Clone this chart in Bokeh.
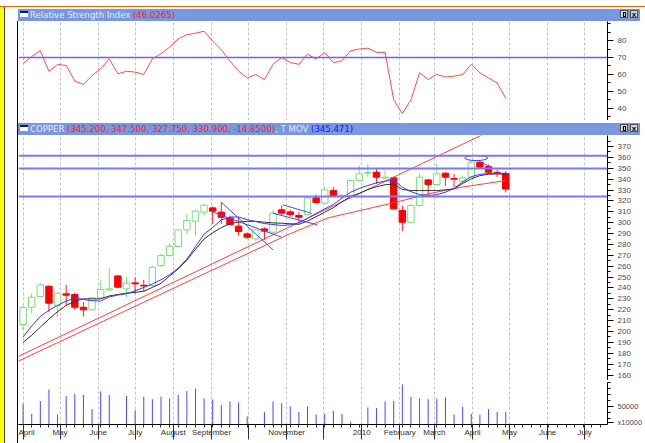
import numpy as np
import pandas as pd
from bokeh.plotting import figure
from bokeh.layouts import column, row
from bokeh.models import (Div, Range1d, FixedTicker, ColumnDataSource, Span)
from bokeh.embed import file_html
from bokeh.resources import INLINE

# ---------------- DATA ----------------
first_week = "2009-04-01"
opens = [206.4, 222.3, 232.1, 241.6, 223.8, 234.6, 234.0, 222.3, 219.9, 230.9,
         238.2, 251.1, 239.2, 244.7, 242.5, 242.2, 260.6, 269.8, 278.1, 293.4,
         301.4, 309.7, 313.6, 309.7, 304.4, 296.8, 289.7, 285.1, 294.3, 291.3,
         311.8, 309.9, 306.6, 307.5, 322.8, 317.9, 329.5, 324.0, 324.9, 338.7,
         345.5, 346.4, 340.9, 341.2, 311.2, 300.4, 315.8, 339.3, 335.1, 345.5,
         340.6, 338.1, 341.8, 355.6, 351.6, 346.2, 345.2]
highs = [223.8, 235.2, 244.4, 242.2, 235.8, 242.8, 235.8, 226.9, 231.5, 246.8,
         258.2, 251.7, 249.9, 249.9, 247.4, 260.6, 271.3, 281.1, 294.0, 308.1,
         311.8, 317.3, 314.9, 318.8, 306.6, 305.0, 291.2, 294.3, 295.8, 311.8,
         315.8, 311.8, 309.7, 323.4, 325.9, 333.2, 332.6, 326.5, 339.3, 352.5,
         354.1, 349.5, 348.0, 342.4, 315.8, 317.3, 344.9, 340.3, 354.1, 346.4,
         344.9, 343.3, 357.1, 357.1, 353.4, 348.5, 347.5]
lows = [201.5, 216.8, 231.5, 217.7, 213.7, 223.8, 219.9, 213.7, 219.2, 230.0,
        237.6, 240.1, 231.5, 234.6, 237.0, 240.7, 259.1, 268.9, 277.5, 289.7,
        288.2, 306.6, 298.9, 298.9, 297.4, 288.2, 285.1, 283.6, 284.2, 289.7,
        306.6, 305.7, 300.4, 306.6, 317.3, 317.3, 323.4, 322.8, 324.0, 338.1,
        342.4, 335.7, 339.3, 311.8, 292.2, 299.5, 314.8, 325.0, 334.1, 334.1,
        332.6, 336.3, 341.2, 350.4, 344.9, 341.8, 327.75]
closes = [222.3, 231.5, 242.8, 226.0, 235.2, 233.4, 222.3, 219.9, 230.9, 238.6,
          239.2, 240.7, 244.4, 243.8, 241.9, 259.1, 269.8, 278.4, 293.4, 302.0,
          310.6, 316.1, 310.6, 305.0, 298.3, 291.9, 286.7, 293.4, 292.2, 308.7,
          308.7, 307.5, 305.0, 322.8, 318.5, 330.2, 324.9, 324.9, 338.7, 344.9,
          346.1, 341.8, 341.8, 312.7, 300.4, 315.8, 341.8, 335.1, 344.9, 341.8,
          340.0, 341.2, 355.6, 351.0, 346.4, 345.75, 330.9]
volume = [58000, 30000, 66000, 98000, 28000, 80000, 86000, 83000, 43000, 93000,
          83000, 0, 80000, 40000, 78000, 71000, 78000, 73000, 83000, 94000,
          101000, 73000, 70000, 55000, 65000, 62000, 23000, 0, 35000, 65000,
          60000, 51000, 35000, 50000, 28000, 30000, 38000, 30000, 8000, 0,
          48000, 46000, 65000, 66000, 113000, 78000, 73000, 71000, 73000, 76000,
          28000, 50000, 30000, 28000, 43000, 35000, 35000]
rsi = [66.5, 70.6, 74.0, 61.9, 65.9, 65.3, 56.1, 54.1, 59.4, 63.3,
       69.2, 60.4, 61.9, 61.4, 60.0, 69.2, 72.2, 76.1, 81.0, 83.4,
       84.3, 85.5, 79.6, 74.5, 68.0, 62.0, 58.0, 60.0, 57.0, 66.0,
       70.0, 67.0, 66.0, 72.0, 69.0, 73.0, 67.0, 68.0, 74.0, 75.0,
       75.5, 73.0, 73.0, 45.0, 37.0, 45.0, 61.0, 57.0, 60.0, 58.5,
       59.0, 60.0, 66.0, 61.0, 58.0, 55.0, 46.0265]
tmov_blue = [195.0, 205.0, 214.0, 219.5, 224.0, 228.0, 230.8, 229.5, 228.3, 228.0,
             231.8, 233.5, 234.7, 237.5, 240.5, 243.7, 247.5, 252.2, 258.3, 266.5,
             278.0, 289.5, 295.6, 302.5, 305.2, 305.2, 302.8, 301.0, 299.2, 298.3,
             297.4, 298.0, 299.9, 304.0, 308.5, 312.6, 316.8, 322.5, 328.0, 331.5,
             334.2, 336.5, 338.2, 339.0, 332.5, 328.5, 325.8, 325.0, 325.8, 328.0,
             331.5, 337.5, 342.3, 344.4, 345.2, 345.4, 345.471]
ma_black = [190.0, 196.5, 204.0, 211.5, 218.3, 224.0, 227.8, 230.0, 230.0, 230.0,
            232.7, 234.0, 235.2, 236.0, 237.0, 240.5, 244.3, 251.0, 257.5, 265.5,
            275.5, 285.0, 290.8, 295.5, 299.0, 300.6, 301.2, 301.3, 300.4, 299.8,
            299.5, 299.0, 298.5, 301.5, 305.5, 309.6, 313.8, 319.2, 324.0, 327.0,
            330.5, 333.0, 334.8, 335.5, 330.5, 329.5, 329.5, 329.5, 329.5, 330.2,
            331.0, 336.0, 340.3, 343.2, 344.5, 344.8, 344.3]
curve_red_dates = ["2009-03-28", "2009-06-02", "2009-08-22", "2009-11-03", "2009-12-05",
                   "2010-01-01", "2010-01-29", "2010-02-24", "2010-03-23", "2010-04-28"]
curve_red_vals = [172.7, 207.8, 250.8, 289.4, 304.5, 311.5, 318.8, 326.5, 332.6, 338.7]
trend_red_dates = ["2009-03-28", "2010-04-15"]
trend_red_vals = [177.0, 384.0]
resistance = [361.5, 349.8, 324.0]
rsi_level = 70
wedge_d0 = ["2009-09-09", "2009-09-02", "2009-10-21", "2009-10-29", "2010-04-08"]
wedge_p0 = [318.8, 309.7, 308.7, 316.4, 355.6]
wedge_d1 = ["2009-10-21", "2009-10-28", "2009-11-26", "2009-11-21", "2010-04-16"]
wedge_p1 = [275.0, 286.7, 298.0, 308.7, 351.0]
ellipse_date = ["2010-04-04"]
ellipse_price = [359.4]
month_starts = pd.date_range("2009-04-01", "2010-07-01", freq="MS")
month_labels = ["April", "May", "June", "July", "August", "September", "", "November",
                "", "2010", "February", "March", "April", "May", "June", "July"]
price_ticks = list(range(160, 371, 10))
rsi_ticks = [40, 50, 60, 70, 80]
vol_ticks = [50000]
vol_unit_tick = 5000
vol_unit_label = "x10000"

# ---------------- HELPERS ----------------
DAY = 86400000.0
EPOCH = pd.Timestamp("1970-01-01")
def ms(t):
    return float((pd.Timestamp(t) - EPOCH) / pd.Timedelta(milliseconds=1))

weeks = pd.date_range(first_week, periods=len(closes), freq="7D")
month_ms = [ms(t) for t in month_starts]
x_range = Range1d(ms("2009-03-28 06:38"), ms("2009-03-28 06:38") + 478.35 * DAY)

FONT = "Liberation Sans"
LIGHT = "#e6ebfb"
RED = "#ff1b1b"
BLUE = "#1414ff"
BAR = "#7897de"

def style_yaxis(ax, ticks, minor):
    ax.ticker = FixedTicker(ticks=ticks, minor_ticks=minor)
    ax.axis_line_color = "black"
    ax.major_tick_line_color = "black"
    ax.minor_tick_line_color = "black"
    ax.major_tick_out = 6
    ax.major_tick_in = 0
    ax.minor_tick_out = 3
    ax.minor_tick_in = 0
    ax.major_label_text_font = FONT
    ax.major_label_text_font_size = "8px"
    ax.major_label_text_color = "#4a4a4a"
    ax.major_label_standoff = 4

def make_fig(h, y0, y1, with_xaxis=False, bottom=0):
    p = figure(width=627, height=h, x_range=x_range, y_range=Range1d(y0, y1),
               x_axis_type="datetime", x_axis_location="below" if with_xaxis else None,
               y_axis_location="right", toolbar_location=None, output_backend="svg",
               min_border_left=0, min_border_right=36, min_border_top=0,
               min_border_bottom=bottom)
    p.outline_line_color = None
    p.background_fill_color = "white"
    p.border_fill_color = "white"
    p.ygrid.visible = False
    p.xgrid.ticker = FixedTicker(ticks=month_ms)
    p.xgrid.grid_line_color = "#c4c4c4"
    p.xgrid.grid_line_dash = "3 2"
    return p

def title_html(parts):
    spans = "".join(f'<span style="color:{c}">{t}</span>' for t, c in parts)
    return (
        f'<div style="position:relative;width:622px;height:12px;background:{BAR};'
        'overflow:hidden;white-space:nowrap;'
        "font-family:'Liberation Sans Narrow','DejaVu Sans Condensed','Liberation Sans',sans-serif;"
        'font-size:9.5px;line-height:12px;">'
        '<span style="position:absolute;left:2px;top:2px;width:8px;height:6px;'
        'background:#fff;border-top:2px solid #1a1a50;"></span>'
        f'<span style="position:absolute;left:12px;top:0px;">{spans}</span>'
        '<span style="position:absolute;left:602px;top:1px;width:8px;height:8px;'
        'background:#d8d4cc;border:1px solid #505050;"><span style="position:absolute;'
        'left:2px;top:1px;width:3px;height:5px;border:1px solid #000;"></span></span>'
        '<span style="position:absolute;left:612px;top:1px;width:8px;height:8px;'
        'background:#d8d4cc;border:1px solid #505050;font:bold 8px sans-serif;'
        'line-height:8px;text-align:center;color:#000;">x</span>'
        '</div>')

def box_div(html, w, h):
    return Div(text=html, width=w, height=h, margin=(0, 0, 0, 0),
               styles={"overflow": "hidden"})

# ---------------- RSI PANEL ----------------
p_rsi = make_fig(99, 32.9, 91.2)
style_yaxis(p_rsi.yaxis[0], rsi_ticks, [35, 45, 55, 65, 75, 85, 90])
p_rsi.add_layout(Span(location=rsi_level, dimension="width", line_color="#6666ff",
                      line_width=1.5))
p_rsi.line(weeks, rsi, line_color="#ff4a4a", line_width=1)

# ---------------- PRICE PANEL ----------------
p_pr = make_fig(245, 155.0, 380.1)
style_yaxis(p_pr.yaxis[0], price_ticks, list(range(155, 380, 5)))
for lv in resistance:
    p_pr.add_layout(Span(location=lv, dimension="width", line_color="#7878ff",
                         line_width=2))

is_up = [c >= o for o, c in zip(opens, closes)]
def candle_src(mask):
    idx = [i for i, m in enumerate(mask) if m]
    return ColumnDataSource(dict(
        x=weeks[idx],
        top=[max(opens[i], closes[i]) for i in idx],
        bottom=[min(opens[i], closes[i]) for i in idx],
        high=[highs[i] for i in idx],
        low=[lows[i] for i in idx]))
up_src = candle_src(is_up)
dn_src = candle_src([not u for u in is_up])
GREEN = "#79dc79"
p_pr.segment("x", "high", "x", "low", source=up_src, line_color=GREEN, line_width=1)
p_pr.vbar("x", 5.2 * DAY, "top", "bottom", source=up_src, fill_color="white",
          line_color=GREEN, line_width=1)
p_pr.segment("x", "high", "x", "low", source=dn_src, line_color="#ff2020", line_width=1)
p_pr.vbar("x", 5.2 * DAY, "top", "bottom", source=dn_src, fill_color="#ff0000",
          line_color="#ff0000", line_width=1)

p_pr.line(pd.to_datetime(trend_red_dates), trend_red_vals, line_color="#ff4040", line_width=1)
p_pr.line(pd.to_datetime(curve_red_dates), curve_red_vals, line_color="#ff4040", line_width=1)
p_pr.line(weeks, ma_black, line_color="#303030", line_width=1)
p_pr.line(weeks, tmov_blue, line_color="#3a3aff", line_width=1)
p_pr.segment(pd.to_datetime(wedge_d0), wedge_p0, pd.to_datetime(wedge_d1), wedge_p1,
             line_color="#4a4aff", line_width=1)
p_pr.ellipse(pd.to_datetime(ellipse_date), ellipse_price, width=18.6 * DAY, height=4.6,
             fill_color=None, line_color="#3a3aff", line_width=1)

# ---------------- VOLUME PANEL ----------------
p_vol = make_fig(61, 0, 118000, with_xaxis=True, bottom=19)
style_yaxis(p_vol.yaxis[0], vol_ticks + [vol_unit_tick],
            [16667, 33333, 66667, 83333, 100000, 116667])
p_vol.yaxis[0].major_label_overrides = {vol_unit_tick: vol_unit_label}
p_vol.yaxis[0].major_label_text_font_size = "7.5px"
p_vol.segment(weeks, [0] * len(volume), weeks, volume, line_color="#4848ff", line_width=1)

xa = p_vol.xaxis[0]
xa.ticker = FixedTicker(ticks=month_ms, minor_ticks=[ms(t) for t in
                        pd.date_range("2009-04-01", "2010-07-19", freq="7D")])
xa.major_label_overrides = {m: lab for m, lab in zip(month_ms, month_labels)}
xa.axis_line_color = "black"
xa.major_tick_line_color = "#303030"
xa.minor_tick_line_color = "#303030"
xa.major_tick_out = 15
xa.major_tick_in = 0
xa.minor_tick_out = 3
xa.minor_tick_in = 0
xa.major_label_standoff = -12
xa.major_label_text_align = "left"
xa.major_label_text_font = FONT
xa.major_label_text_font_size = "8px"
xa.major_label_text_color = "#303030"

# ---------------- FRAME / TITLES ----------------
top_div = box_div('<div style="width:645px;height:6px;background:#e2680c;'
                  'border-bottom:1px solid #000"></div>', 645, 7)
left_div = box_div('<div style="position:relative;width:18px;height:436px;background:#fff">'
                   '<div style="position:absolute;left:0;top:0;width:4px;height:436px;'
                   'background:#ffff00"></div>'
                   '<div style="position:absolute;left:4px;top:0;width:1px;height:436px;'
                   'background:#404040"></div>'
                   '<div style="position:absolute;left:17px;top:14px;width:1px;height:422px;'
                   'background:#000"></div></div>', 18, 436)

rsi_title = box_div(title_html([("Relative Strength Index ", LIGHT),
                                (f"({rsi[-1]:.4f})", RED)]), 622, 12)
cu_vals = (f"({opens[-1]:.3f}, {highs[-1]:.3f}, {lows[-1]:.3f}, {closes[-1]:.3f}, "
           f"{closes[-1] - closes[-2]:.4f})")
cu_title = box_div(title_html([("COPPER ", LIGHT), (cu_vals, RED), (", T MOV ", LIGHT),
                               (f"({tmov_blue[-1]:.3f})", BLUE)]), 622, 12)
gap1 = box_div("", 622, 2)
gap2 = box_div("", 622, 3)
sep = box_div('<div style="width:627px;height:2px;background:#8c8c8c"></div>', 627, 2)

right_col = column(gap1, rsi_title, p_rsi, gap2, cu_title, p_pr, sep, p_vol, spacing=0)
root = column(top_div, row(left_div, right_col, spacing=0), spacing=0)

open("out.html", "w").write(file_html(root, INLINE))
